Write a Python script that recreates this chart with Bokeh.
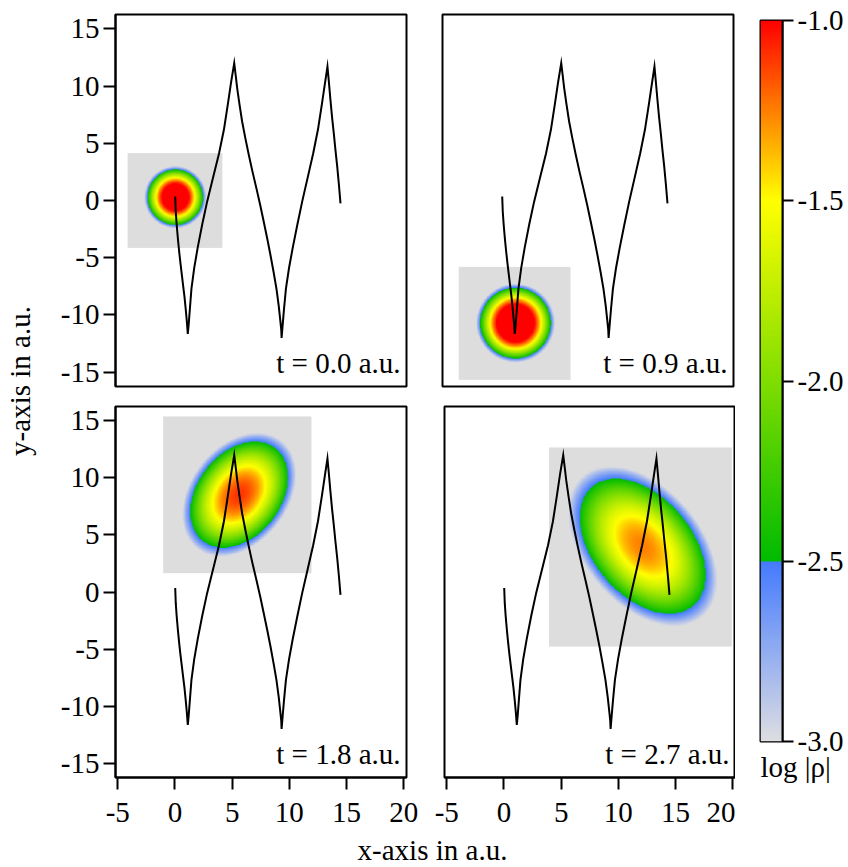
import numpy as np
from bokeh.plotting import figure
from bokeh.layouts import row, column
from bokeh.models import LinearColorMapper, FixedTicker, PrintfTickFormatter, Title, Range1d
from bokeh.core.properties import value
from bokeh.embed import file_html
from bokeh.resources import INLINE

# ---------------- data ----------------
traj_x = [0.02, 0.07, 0.14, 0.19, 0.27, 0.37, 0.48, 0.60, 0.72, 0.83, 0.94, 1.04, 1.12,
          1.20, 1.30, 1.44, 1.68, 1.99, 2.38, 2.81, 3.33, 3.85, 4.28, 4.62, 4.90, 5.18,
          5.30, 5.44, 5.64, 5.87, 6.15, 6.45, 6.78, 7.12, 7.45, 7.76, 8.06, 8.35, 8.62,
          8.87, 9.07, 9.22, 9.29, 9.32,
          9.42, 9.53, 9.70, 9.97, 10.30, 10.70, 11.12, 11.60, 12.08, 12.50, 12.84, 13.12, 13.33,
          13.45, 13.59, 13.73, 13.88, 14.03, 14.18, 14.33, 14.47]
traj_y = [0.35, -1.0, -2.0, -2.6, -3.5, -4.5, -5.5, -6.5, -7.5, -8.4, -9.5, -10.6, -11.65,
          -10.8, -9.5, -7.7, -5.9, -4.1, -2.1, -0.1, 2.0, 4.1, 6.2, 8.4, 10.3, 12.0,
          11.0, 9.8, 8.4, 6.9, 5.45, 4.0, 2.5, 1.06, -0.4, -1.86, -3.3, -4.78, -6.25,
          -7.7, -9.2, -10.6, -11.3, -12.0,
          -10.8, -9.5, -7.7, -5.9, -4.1, -2.1, -0.1, 2.0, 4.1, 6.2, 8.4, 10.3, 11.7,
          10.4, 8.8, 7.3, 5.9, 4.4, 3.0, 1.4, -0.25]

time_labels = ["t = 0.0 a.u.", "t = 0.9 a.u.", "t = 1.8 a.u.", "t = 2.7 a.u."]

# grey boxes (extent of the density images)
box_x0 = [-4.14, -3.78, -1.03, 3.94]
box_x1 = [4.14, 5.99, 11.93, 19.91]
box_y0 = [-4.14, -15.67, 1.65, -4.78]
box_y1 = [4.14, -5.80, 15.38, 12.66]

# wave-packet parameters
blob_cx = [0.0, 1.15, 5.6, 12.1]
blob_cy = [0.25, -10.75, 8.5, 4.0]
blob_peak = [-0.54, -0.40, -1.10, -1.25]     # log|rho| at the centre
blob_a = [2.70, 3.42, 6.00, 8.10]            # semi-axis (major) at log|rho| = -3
blob_b = [2.70, 3.42, 4.25, 5.10]            # semi-axis (minor) at log|rho| = -3
blob_angle_deg = [0.0, 0.0, 52.0, -50.0]

x_ticks = [-5, 0, 5, 10, 15, 20]
y_ticks = [-15, -10, -5, 0, 5, 10, 15]
x_lim = (-5.2, 20.24)
y_lim = (-16.25, 16.25)

cbar_ticks = [-3.0, -2.5, -2.0, -1.5, -1.0]
cbar_low, cbar_high = -3.0, -1.0
# colour map: grey->blue below -2.5, green->yellow->red above
lower_stops = [(-3.0, (222, 222, 226)), (-2.5, (68, 122, 255))]
upper_stops = [(-2.5, (0, 187, 0)), (-1.5, (255, 255, 0)), (-1.0, (255, 0, 0))]

x_title = "x-axis in a.u."
y_title = "y-axis in a.u."
cbar_title = "log |ρ|"

FONT = "Liberation Serif"
FS = "29px"

# ---------------- colour mapper ----------------
def interp_col(v, stops):
    for (v0, c0), (v1, c1) in zip(stops[:-1], stops[1:]):
        if v0 <= v <= v1:
            f = (v - v0) / (v1 - v0)
            return tuple(int(round(c0[k] + f * (c1[k] - c0[k]))) for k in range(3))
    return stops[-1][1]

N = 256
palette = []
for i in range(N):
    v = cbar_low + (i + 0.5) * (cbar_high - cbar_low) / N
    c = interp_col(v, lower_stops) if v < -2.5 else interp_col(v, upper_stops)
    palette.append("#%02x%02x%02x" % c)

mapper = LinearColorMapper(palette=palette, low=cbar_low, high=cbar_high,
                           low_color="#dddddd", high_color="#ff0000")


def density(i, n=260):
    xs = np.linspace(box_x0[i], box_x1[i], n)
    ys = np.linspace(box_y0[i], box_y1[i], n)
    X, Y = np.meshgrid(xs, ys)
    th = np.deg2rad(blob_angle_deg[i])
    dx, dy = X - blob_cx[i], Y - blob_cy[i]
    u = dx * np.cos(th) + dy * np.sin(th)
    w = -dx * np.sin(th) + dy * np.cos(th)
    q = (u / blob_a[i]) ** 2 + (w / blob_b[i]) ** 2
    return blob_peak[i] - (blob_peak[i] + 3.0) * q


def style_axes(p):
    for ax in p.axis:
        ax.axis_line_color = "black"
        ax.axis_line_width = 2
        ax.major_tick_out = 12
        ax.major_tick_in = 0
        ax.minor_tick_out = 0
        ax.minor_tick_in = 0
        ax.major_tick_line_width = 2
        ax.major_tick_line_color = "black"
        ax.major_label_text_font = FONT
        ax.major_label_text_font_size = FS
        ax.major_label_text_color = "black"
        ax.formatter = PrintfTickFormatter(format="%d")
    for ax in p.xaxis:
        ax.ticker = FixedTicker(ticks=x_ticks)
        ax.major_label_standoff = 13
    for ax in p.yaxis:
        ax.ticker = FixedTicker(ticks=y_ticks)
        ax.major_label_standoff = 4


def make_panel(i, width, height, mbl, mbr, mbt, mbb, show_x, show_y):
    p = figure(width=width, height=height,
               x_range=Range1d(*x_lim), y_range=Range1d(*y_lim),
               min_border_left=mbl, min_border_right=mbr,
               min_border_top=mbt, min_border_bottom=mbb,
               toolbar_location=None, output_backend="svg",
               x_axis_location="below" if show_x else None,
               y_axis_location="left" if show_y else None)
    p.grid.visible = False
    p.outline_line_color = "black"
    p.outline_line_width = 2
    p.outline_line_alpha = 1
    p.background_fill_color = "white"
    p.border_fill_color = "white"
    p.image(image=[density(i)], x=box_x0[i], y=box_y0[i],
            dw=box_x1[i] - box_x0[i], dh=box_y1[i] - box_y0[i],
            color_mapper=mapper)
    p.line(traj_x, traj_y, line_color="black", line_width=2, line_join="miter")
    p.text(x=[x_lim[1]], y=[y_lim[0]], text=[time_labels[i]],
           text_align="right", text_baseline="alphabetic",
           x_offset=-6, y_offset=-24,
           text_font=value(FONT), text_font_size=FS, text_color="black")
    style_axes(p)
    return p


f1 = make_panel(0, 379, 396, 70, 18, 14, 10, False, True)
f2 = make_panel(1, 311, 396, 18, 2, 14, 10, False, False)
f3 = make_panel(2, 379, 437, 70, 18, 10, 56, True, True)
f4 = make_panel(3, 311, 437, 20, 0, 10, 56, True, False)


def label_axis(ax, text, standoff):
    ax.ticker = FixedTicker(ticks=[])
    ax.major_label_text_font_size = "0px"
    ax.major_tick_out = 0
    ax.major_tick_in = 0
    ax.minor_tick_out = 0
    ax.minor_tick_in = 0
    ax.axis_line_color = None
    ax.axis_label = text
    ax.axis_label_text_font = FONT
    ax.axis_label_text_font_size = FS
    ax.axis_label_text_font_style = "normal"
    ax.axis_label_text_color = "black"
    ax.axis_label_standoff = standoff


# y-axis title (a narrow figure whose frame is centred on the two left panels)
ylab = figure(width=45, height=867, x_range=(0, 1), y_range=(0, 1),
              min_border_left=38, min_border_right=0, min_border_top=0, min_border_bottom=78,
              toolbar_location=None, output_backend="svg",
              x_axis_location=None, y_axis_location="left")
ylab.outline_line_color = None
ylab.grid.visible = False
for ax in ylab.yaxis:
    label_axis(ax, y_title, 3)

# x-axis title (frame centred below the two lower panels)
xlab = figure(width=690, height=34, x_range=(0, 1), y_range=(0, 1),
              min_border_left=84, min_border_right=0, min_border_top=0, min_border_bottom=33,
              toolbar_location=None, output_backend="svg",
              x_axis_location="below", y_axis_location=None)
xlab.outline_line_color = None
xlab.grid.visible = False
for ax in xlab.xaxis:
    label_axis(ax, x_title, 0)

# colour bar
cb = figure(width=113, height=867, x_range=(0, 1), y_range=(cbar_low, cbar_high),
            min_border_left=25, min_border_right=66, min_border_top=20, min_border_bottom=126,
            toolbar_location=None, output_backend="svg",
            x_axis_location=None, y_axis_location="right")
cb.grid.visible = False
grad = np.linspace(cbar_low, cbar_high, 721).reshape(-1, 1)
cb.image(image=[grad], x=0, y=cbar_low, dw=1, dh=cbar_high - cbar_low, color_mapper=mapper)
cb.outline_line_color = "black"
cb.outline_line_width = 2
cb.outline_line_alpha = 1
for ax in cb.yaxis:
    ax.ticker = FixedTicker(ticks=cbar_ticks)
    ax.formatter = PrintfTickFormatter(format="%.1f")
    ax.axis_line_color = "black"
    ax.axis_line_width = 2
    ax.major_tick_out = 11
    ax.major_tick_in = 0
    ax.minor_tick_out = 0
    ax.minor_tick_in = 0
    ax.major_tick_line_width = 2
    ax.major_label_standoff = 4
    ax.major_label_text_font = FONT
    ax.major_label_text_font_size = FS
    ax.major_label_text_color = "black"
cb.add_layout(Title(text=cbar_title, align="left", text_font=FONT, text_font_size=FS,
                    text_font_style="normal", text_color="black", standoff=14), "below")

layout = row(ylab, column(row(f1, f2), row(f3, f4), xlab), cb)

open("out.html", "w").write(file_html(layout, INLINE))
